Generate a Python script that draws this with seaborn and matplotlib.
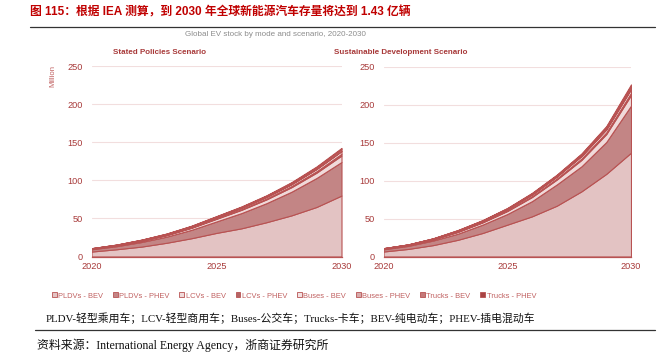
import matplotlib
matplotlib.use("Agg")
import matplotlib.pyplot as plt
from matplotlib.patches import Patch
import seaborn as sns
import numpy as np

# Data (million vehicles)
years = [2020, 2021, 2022, 2023, 2024, 2025, 2026, 2027, 2028, 2029, 2030]
series_names = ["PLDVs - BEV", "PLDVs - PHEV", "LCVs - BEV", "LCVs - PHEV",
                "Buses - BEV", "Buses - PHEV", "Trucks - BEV", "Trucks - PHEV"]

# Stated Policies Scenario
sps_pldv_bev = [6.5, 9.5, 13, 18, 24, 31, 37, 45, 54, 65, 80]
sps_pldv_phev = [3.0, 4.0, 6.0, 8.0, 11, 15, 20, 25, 31, 38, 44]
sps_lcv_bev = [0.6, 1.0, 1.5, 2.0, 2.7, 3.5, 4.3, 5.0, 6.0, 7.0, 8.5]
sps_lcv_phev = [0.1, 0.2, 0.3, 0.4, 0.5, 0.7, 0.9, 1.1, 1.4, 1.8, 2.3]
sps_bus_bev = [0.5, 0.6, 0.8, 1.0, 1.2, 1.5, 1.8, 2.1, 2.5, 3.0, 3.5]
sps_bus_phev = [0.05, 0.06, 0.08, 0.1, 0.12, 0.15, 0.2, 0.25, 0.3, 0.35, 0.4]
sps_truck_bev = [0.1, 0.2, 0.3, 0.4, 0.6, 0.8, 1.0, 1.3, 1.6, 2.0, 2.5]
sps_truck_phev = [0.05, 0.1, 0.15, 0.2, 0.3, 0.4, 0.5, 0.6, 0.8, 1.0, 1.3]

# Sustainable Development Scenario
sds_pldv_bev = [6.6, 10, 15, 22, 31, 42, 53, 67, 86, 109, 137]
sds_pldv_phev = [2.9, 4.0, 6.0, 8.0, 11, 14, 20, 28, 33, 42, 62]
sds_lcv_bev = [0.7, 1.0, 1.5, 2.4, 3.0, 4.0, 5.5, 6.5, 8.5, 10.5, 14]
sds_lcv_phev = [0.1, 0.2, 0.3, 0.5, 0.6, 0.8, 1.1, 1.3, 1.7, 2.1, 2.8]
sds_bus_bev = [0.5, 0.6, 0.8, 1.1, 1.3, 1.7, 2.2, 2.6, 3.3, 4.0, 5.0]
sds_bus_phev = [0.05, 0.06, 0.08, 0.1, 0.15, 0.2, 0.3, 0.4, 0.5, 0.6, 0.8]
sds_truck_bev = [0.1, 0.1, 0.2, 0.5, 0.6, 0.8, 1.2, 1.4, 2.0, 2.5, 3.4]
sds_truck_phev = [0.05, 0.05, 0.1, 0.3, 0.35, 0.5, 0.7, 0.8, 1.0, 1.3, 2.0]

sps = [sps_pldv_bev, sps_pldv_phev, sps_lcv_bev, sps_lcv_phev,
       sps_bus_bev, sps_bus_phev, sps_truck_bev, sps_truck_phev]
sds = [sds_pldv_bev, sds_pldv_phev, sds_lcv_bev, sds_lcv_phev,
       sds_bus_bev, sds_bus_phev, sds_truck_bev, sds_truck_phev]

fill_colors = ["#e3c3c3", "#c38585", "#f0dada", "#b56565",
               "#f3e1e1", "#d8aaaa", "#c47a7a", "#a84444"]
edge_color = "#b85252"
red = "#a83a3a"
title_red = "#c00000"

sns.set_theme(style="white")
plt.rcParams["font.family"] = ["Liberation Sans", "Noto Sans CJK SC", "DejaVu Sans"]

fig = plt.figure(figsize=(6.6, 3.54), dpi=100)

W, H = 660, 354
def ax_rect(x0, x1, y_top, y_bot):
    return [x0 / W, 1 - y_bot / H, (x1 - x0) / W, (y_bot - y_top) / H]

ax1 = fig.add_axes(ax_rect(91.5, 341.5, 66, 256.5))
ax2 = fig.add_axes(ax_rect(383.5, 631, 67, 256.5))

for ax, data in [(ax1, sps), (ax2, sds)]:
    ax.stackplot(years, *data, colors=fill_colors, edgecolor=edge_color,
                 linewidth=0.8)
    ax.set_xlim(2020, 2030)
    ax.set_ylim(0, 250)
    ax.set_yticks([0, 50, 100, 150, 200, 250])
    ax.set_xticks([2020, 2025, 2030])
    ax.grid(axis="y", color="#f2dede", linewidth=0.8)
    ax.set_axisbelow(True)
    sns.despine(ax=ax, left=True, top=True, right=True)
    ax.spines["bottom"].set_color(edge_color)
    ax.spines["bottom"].set_linewidth(0.9)
    ax.tick_params(axis="both", length=0, labelsize=6.6, colors=red)
    ax.tick_params(axis="y", pad=6)
    ax.tick_params(axis="x", pad=4)

# Panel titles (not centred on the axes in the original)
fig.text(160 / W, 1 - 53 / H, "Stated Policies Scenario", fontsize=5.8,
         fontweight="bold", color=red, ha="center", va="center")
fig.text(401 / W, 1 - 53 / H, "Sustainable Development Scenario", fontsize=5.8,
         fontweight="bold", color=red, ha="center", va="center")
fig.text(53 / W, 1 - 76 / H, "Million", fontsize=5.6, color="#c06060",
         rotation=90, ha="center", va="center")

# Main title and rules
fig.text(30 / W, 1 - 12 / H,
         "图 115：根据 IEA 测算，到 2030 年全球新能源汽车存量将达到 1.43 亿辆",
         fontsize=8.5, fontweight="bold", color=title_red, va="center",
         family=["Liberation Sans", "Noto Sans CJK SC"])
fig.add_artist(plt.Line2D([30 / W, 655 / W], [1 - 27 / H, 1 - 27 / H],
                          color="#333333", linewidth=0.9))
fig.text(275 / W, 1 - 35 / H, "Global EV stock by mode and scenario, 2020-2030",
         fontsize=5.8, color="#8c8c8c", ha="center", va="center")

# Legend
handles = [Patch(facecolor=c, edgecolor=edge_color, linewidth=0.6)
           for c in fill_colors]
fig.legend(handles, series_names, loc="center", bbox_to_anchor=(294 / W, 1 - 296 / H),
           ncol=8, frameon=False, fontsize=5.4, labelcolor="#c06060",
           handlelength=0.65, handleheight=0.65, handletextpad=0.2,
           columnspacing=1.3)

fig.text(46 / W, 1 - 318 / H,
         "PLDV-轻型乘用车；LCV-轻型商用车；Buses-公交车；Trucks-卡车；BEV-纯电动车；PHEV-插电混动车",
         fontsize=7.8, color="#111111", va="center",
         family=["Liberation Serif", "Noto Sans CJK SC"])
fig.add_artist(plt.Line2D([35 / W, 655 / W], [1 - 330 / H, 1 - 330 / H],
                          color="#333333", linewidth=0.9))
fig.text(37 / W, 1 - 345 / H,
         "资料来源：International Energy Agency，浙商证券研究所",
         fontsize=8.6, color="#111111", va="center",
         family=["Liberation Serif", "Noto Sans CJK SC"])

fig.savefig("out.png", dpi=100)
